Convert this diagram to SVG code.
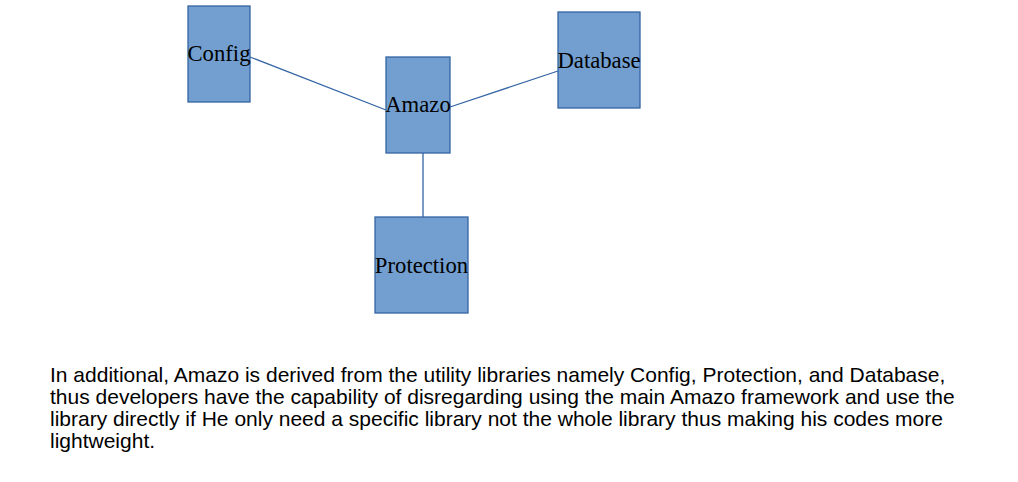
<svg xmlns="http://www.w3.org/2000/svg" width="1018" height="482" viewBox="0 0 1018 482">
<style>
.box{fill:#729fcf;stroke:#3465a4;stroke-width:1.3}
.lbl{font-family:"Liberation Serif",serif;font-size:22.7px;fill:#000;text-anchor:middle}
.conn{stroke:#3465a4;stroke-width:1.3;fill:none}
.para{font-family:"Liberation Sans",Arial,sans-serif;font-size:21px;fill:#000}
</style>
<rect width="1018" height="482" fill="#fff"/>
<g id="connectors">
<line class="conn" x1="250" y1="57" x2="386" y2="110"/>
<line class="conn" x1="450" y1="107" x2="558" y2="71"/>
<line class="conn" x1="423" y1="153" x2="423" y2="217"/>
</g>
<g id="config"><rect class="box" x="188" y="6" width="62" height="96"/><text class="lbl" x="219" y="61">Config</text></g>
<g id="amazo"><rect class="box" x="386" y="57" width="64" height="96"/><text class="lbl" x="418" y="112">Amazo</text></g>
<g id="database"><rect class="box" x="558" y="12" width="82" height="96"/><text class="lbl" x="599" y="68">Database</text></g>
<g id="protection"><rect class="box" x="375" y="217" width="93" height="96"/><text class="lbl" x="421.5" y="273">Protection</text></g>
<g id="paragraph">
<text class="para" x="50" y="381.5">In additional, Amazo is derived from the utility libraries namely Config, Protection, and Database,</text>
<text class="para" x="50" y="403.5">thus developers have the capability of disregarding using the main Amazo framework and use the</text>
<text class="para" x="50" y="425.5">library directly if He only need a specific library not the whole library thus making his codes more</text>
<text class="para" x="50" y="447.5">lightweight.</text>
</g>
</svg>
